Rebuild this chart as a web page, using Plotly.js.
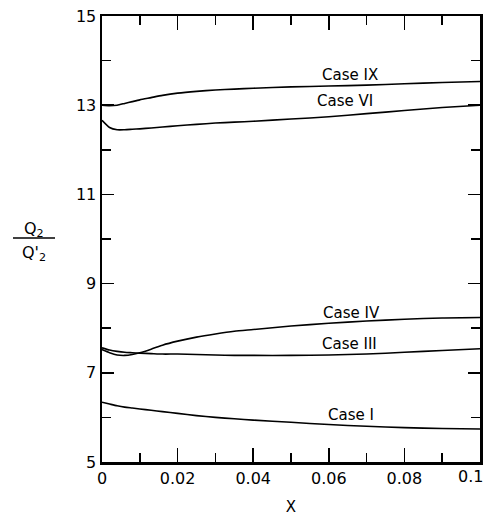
<!DOCTYPE html>
<html>
<head>
<meta charset="utf-8">
<script src="https://cdn.plot.ly/plotly-3.0.1.min.js"></script>
<style>html,body{margin:0;padding:0;background:#fff;}#chart{width:485px;height:516px;}</style>
</head>
<body>
<div id="chart"></div>
<script>
const xs = [0, 0.002, 0.004, 0.006, 0.008, 0.01, 0.013, 0.016, 0.02, 0.025, 0.03, 0.035, 0.04, 0.05, 0.06, 0.07, 0.08, 0.09, 0.1];
const caseIX = [13.0, 12.99, 13.0, 13.04, 13.08, 13.12, 13.17, 13.22, 13.27, 13.31, 13.34, 13.36, 13.38, 13.41, 13.43, 13.45, 13.48, 13.51, 13.53];
const caseVI = [12.66, 12.50, 12.45, 12.45, 12.46, 12.47, 12.49, 12.51, 12.54, 12.57, 12.60, 12.62, 12.64, 12.69, 12.74, 12.81, 12.88, 12.95, 13.0];
const caseIV = [7.52, 7.45, 7.40, 7.39, 7.41, 7.45, 7.53, 7.62, 7.71, 7.80, 7.87, 7.93, 7.97, 8.05, 8.11, 8.16, 8.20, 8.23, 8.24];
const caseIII = [7.56, 7.51, 7.48, 7.46, 7.45, 7.44, 7.43, 7.42, 7.42, 7.41, 7.40, 7.39, 7.39, 7.39, 7.40, 7.42, 7.46, 7.50, 7.54];
const caseI = [6.34, 6.30, 6.26, 6.23, 6.21, 6.19, 6.16, 6.13, 6.09, 6.04, 6.00, 5.97, 5.94, 5.89, 5.84, 5.80, 5.77, 5.75, 5.74];

const seriesNames = ["Case IX", "Case VI", "Case IV", "Case III", "Case I"];
const seriesValues = [caseIX, caseVI, caseIV, caseIII, caseI];
const labelX = [0.0656, 0.0643, 0.066, 0.0655, 0.066];
const labelY = [13.67, 13.10, 8.33, 7.64, 6.05];

const xTickVals = [0, 0.02, 0.04, 0.06, 0.08, 0.1];
const xTickText = ["0", "0.02", "0.04", "0.06", "0.08", "0.1"];
const yTickVals = [5, 7, 9, 11, 13, 15];
const yTickText = ["5", "7", "9", "11", "13", "15"];

const FONT = "DejaVu Sans, sans-serif";

const traces = seriesValues.map((v, i) => ({
  x: xs, y: v, name: seriesNames[i], type: "scatter", mode: "lines",
  line: {color: "#000", width: 1.6, shape: "spline", smoothing: 0.6},
  hoverinfo: "skip"
}));

const W = 485, H = 516, ML = 102, MR = 5, MT = 16, MB = 54;
const plotW = W - ML - MR, plotH = H - MT - MB;
function px2paperX(px){ return (px - ML) / plotW; }
function py2paperY(py){ return (H - MB - py) / plotH; }

// last x tick label is drawn as an annotation so it stays inside the page edge
const lastIdx = xTickVals.length - 1;
const axisTickText = xTickText.map((t, i) => i === lastIdx ? "" : t);

const annotations = seriesNames.map((n, i) => ({
  x: labelX[i], y: labelY[i], xref: "x", yref: "y", text: n, showarrow: false,
  font: {family: FONT, size: 15, color: "#000"}, xanchor: "center", yanchor: "middle"
}));
annotations.push(
  {x: px2paperX(34), y: py2paperY(229), xref: "paper", yref: "paper", text: "Q<sub>2</sub>", showarrow: false,
   font: {family: FONT, size: 16, color: "#000"}, xanchor: "center", yanchor: "middle"},
  {x: px2paperX(34), y: py2paperY(253), xref: "paper", yref: "paper", text: "Q'<sub>2</sub>", showarrow: false,
   font: {family: FONT, size: 16, color: "#000"}, xanchor: "center", yanchor: "middle"},
  {x: px2paperX(484), y: py2paperY(466), xref: "paper", yref: "paper", text: xTickText[lastIdx], showarrow: false,
   font: {family: FONT, size: 16, color: "#000"}, xanchor: "right", yanchor: "top", borderpad: 0}
);

const layout = {
  width: W, height: H,
  margin: {l: ML, r: MR, t: MT, b: MB},
  paper_bgcolor: "#fff", plot_bgcolor: "#fff",
  showlegend: false,
  font: {family: FONT, size: 16, color: "#000"},
  xaxis: {
    range: [0, 0.1], showgrid: false, zeroline: false,
    showline: true, linecolor: "#000", linewidth: 2.5, mirror: "allticks",
    ticks: "inside", ticklen: 14, tickwidth: 1.5, tickcolor: "#000",
    tickmode: "array", tickvals: xTickVals, ticktext: axisTickText,
    tickfont: {family: FONT, size: 16, color: "#000"},
    minor: {dtick: 0.01, ticks: "inside", ticklen: 9, tickwidth: 1.5, tickcolor: "#000", showgrid: false},
    title: {text: "X", font: {family: FONT, size: 15, color: "#000"}, standoff: 20}
  },
  yaxis: {
    range: [5, 15], showgrid: false, zeroline: false,
    showline: true, linecolor: "#000", linewidth: 2.5, mirror: "allticks",
    ticks: "inside", ticklen: 12, tickwidth: 1.5, tickcolor: "#000",
    tickmode: "array", tickvals: yTickVals, ticktext: yTickText,
    ticklabeloverflow: "allow",
    tickfont: {family: FONT, size: 16, color: "#000"},
    minor: {dtick: 1, ticks: "inside", ticklen: 9, tickwidth: 1.5, tickcolor: "#000", showgrid: false}
  },
  annotations: annotations,
  shapes: [{
    type: "line", xref: "paper", yref: "paper",
    x0: px2paperX(13), x1: px2paperX(55), y0: py2paperY(238), y1: py2paperY(238),
    line: {color: "#000", width: 1.5}
  }]
};

Plotly.newPlot("chart", traces, layout, {displayModeBar: false, staticPlot: true});
</script>
</body>
</html>
